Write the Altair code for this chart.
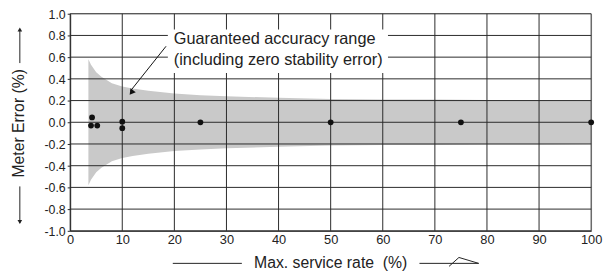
import altair as alt
import pandas as pd

# ---- data ----
band_x = [3.5, 4, 5, 6, 7, 8, 10, 12, 15, 20, 25, 30, 40, 50, 60, 70, 80, 90, 100]
band_upper = [0.58, 0.53, 0.46, 0.42, 0.39, 0.36, 0.33, 0.31, 0.29, 0.265, 0.25, 0.24,
              0.225, 0.215, 0.21, 0.21, 0.205, 0.205, 0.20]
band_lower = [-v for v in band_upper]

pts_x = [4.2, 4.0, 5.2, 10, 10, 25, 50, 75, 100]
pts_y = [0.045, -0.03, -0.03, 0.005, -0.055, 0.0, 0.0, 0.0, 0.0]

x_ticks = [0, 10, 20, 30, 40, 50, 60, 70, 80, 90, 100]
y_ticks = [-1.0, -0.8, -0.6, -0.4, -0.2, 0.0, 0.2, 0.4, 0.6, 0.8, 1.0]

note_lines = ["Guaranteed accuracy range", "(including zero stability error)"]
note_x = [19.9, 19.9]
note_y = [0.765, 0.575]
note_box = {"x": 18.75, "x2": 61.0, "y": 0.455, "y2": 0.855}
arrow_x = [18.4, 11.6]
arrow_y = [0.70, 0.29]
arrow_head = {"x": 11.75, "y": 0.275}

x_title = "Max. service rate \u00a0(%)"
y_title = "Meter Error (%)"

FONT = "Liberation Sans"
TXT = "#222222"
GRID = "#2a2a2a"

band = pd.DataFrame({"x": band_x, "lo": band_lower, "hi": band_upper})
pts = pd.DataFrame({"x": pts_x, "y": pts_y})
xt = pd.DataFrame({"x": x_ticks})
yt = pd.DataFrame({"y": y_ticks})
notes = pd.DataFrame({"x": note_x, "y": note_y, "t": note_lines})
box = pd.DataFrame([note_box])
arrow = pd.DataFrame({"x": arrow_x, "y": arrow_y})
head = pd.DataFrame([arrow_head])

xs = alt.Scale(domain=[0, 100], nice=False)
ys = alt.Scale(domain=[-1, 1], nice=False)

xaxis = alt.Axis(
    values=x_ticks, title=None, grid=False, tickSize=0, labelPadding=3,
    labelFontSize=13, labelFont=FONT, labelColor=TXT, domainColor=GRID,
    labelFlush=False, labelOverlap=False)
yaxis = alt.Axis(
    values=y_ticks, title=None, grid=False, tickSize=3, tickColor=GRID,
    labelPadding=2, labelFontSize=12.5, labelFont=FONT, labelColor=TXT,
    domainColor=GRID, labelFlush=False, labelOverlap=False, labelOffset=0.5,
    labelExpr="replace(format(datum.value, '.1f'), '\u2212', '-')")


def X(f):
    return alt.X(f, scale=xs, axis=xaxis)


def Y(f):
    return alt.Y(f, scale=ys, axis=yaxis)


area = alt.Chart(band).mark_area(color="#c9c9c9").encode(
    x=X("x:Q"), y=Y("lo:Q"), y2="hi:Q")

vgrid = alt.Chart(xt).mark_rule(color=GRID, strokeWidth=1).encode(x=X("x:Q"))
hgrid = alt.Chart(yt).mark_rule(color=GRID, strokeWidth=1).encode(y=Y("y:Q"))

wbox = alt.Chart(box).mark_rect(color="white").encode(
    x=X("x:Q"), x2="x2:Q", y=Y("y:Q"), y2="y2:Q")

ntext = alt.Chart(notes).mark_text(
    align="left", baseline="middle", font=FONT, fontSize=16.5, color=TXT
).encode(x=X("x:Q"), y=Y("y:Q"), text="t:N")

aline = alt.Chart(arrow).mark_line(color="#111", strokeWidth=1).encode(
    x=X("x:Q"), y=Y("y:Q"))
ahead = alt.Chart(head).mark_point(
    shape="triangle-up", filled=True, color="#111", size=45, angle=217, opacity=1
).encode(x=X("x:Q"), y=Y("y:Q"))

points = alt.Chart(pts).mark_circle(color="#111", size=34, opacity=1).encode(
    x=X("x:Q"), y=Y("y:Q"))

one = alt.Data(values=[{"a": 1}])

ytitle = alt.Chart(one).mark_text(
    angle=270, font=FONT, fontSize=16, color=TXT, baseline="middle", align="center"
).encode(x=alt.value(-52), y=alt.value(111), text=alt.value(y_title))
xtitle = alt.Chart(one).mark_text(
    font=FONT, fontSize=16, color=TXT, baseline="middle", align="center"
).encode(x=alt.value(264), y=alt.value(253), text=alt.value(x_title))


def seg(x1, y1, x2, y2):
    return alt.Chart(one).mark_rule(color="#222", strokeWidth=1).encode(
        x=alt.value(x1), y=alt.value(y1), x2=alt.value(x2), y2=alt.value(y2))


decor = [
    seg(-51, 16, -51, 50),
    seg(-51, 175, -51, 212),
    seg(104, 253, 174, 253),
    seg(354, 253, 414, 253),
    seg(384, 256, 394, 247),
    seg(394, 247, 414, 253),
    alt.Chart(one).mark_point(shape="triangle-up", filled=True, color="#222", size=22,
                              opacity=1)
    .encode(x=alt.value(-51), y=alt.value(16)),
    alt.Chart(one).mark_point(shape="triangle-down", filled=True, color="#222", size=22,
                              opacity=1)
    .encode(x=alt.value(-51), y=alt.value(211)),
]

chart = alt.layer(area, vgrid, hgrid, wbox, ntext, aline, ahead, points,
                  ytitle, xtitle, *decor).properties(
    width=528, height=220,
    autosize=alt.AutoSizeParams(type="none"),
    padding={"left": 63, "top": 4, "right": 12, "bottom": 45},
).configure_view(stroke=None).configure_axis(labelOverlap=False).configure(background="white")

chart.save("out.html", embed_options={"renderer": "svg", "actions": False})
